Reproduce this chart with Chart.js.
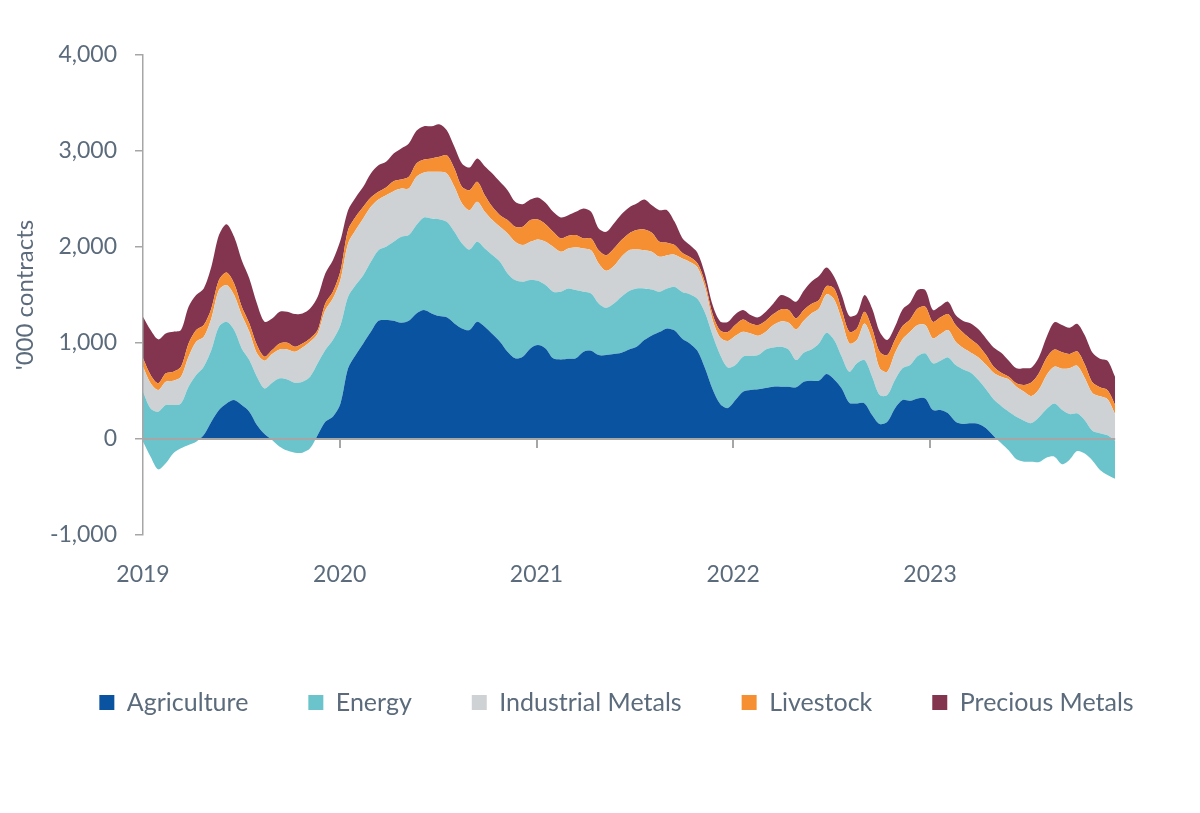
<!doctype html>
<html>
<head>
    <meta charset="utf-8">
    <title>Net positioning by commodity sector</title>
    <script src="https://cdn.jsdelivr.net/npm/chart.js"></script>
    <style>
        html, body { margin: 0; padding: 0; background: #fff; }
        #wrap { width: 1200px; height: 813px; }
    </style>
</head>
<body>
<div id="wrap"><canvas id="myChart"></canvas></div>

<script>
    // tick labels
    var YEARS = [2019, 2020, 2021, 2022, 2023];
    // one point roughly every two weeks, in fractional years from 2019
    var STEP = 0.0386;

    // '000 contracts (stacked in this order)
    var agriculture = [
        -28, -184, -316, -253, -149, -97, -62, -28, 42, 180,
        302, 371, 406, 354, 285, 146, 52, -10, -80, -121,
        -142, -142, -97, 42, 180, 232, 370, 736, 874, 996,
        1117, 1232, 1239, 1232, 1211, 1232, 1308, 1343, 1308, 1280,
        1267, 1204, 1152, 1135, 1221, 1169, 1093, 1013, 909, 840,
        857, 944, 979, 944, 840, 829, 836, 840, 909, 920,
        874, 874, 885, 899, 933, 961, 1031, 1079, 1114, 1152,
        1130, 1045, 996, 918, 736, 518, 365, 322, 405, 493,
        510, 517, 531, 545, 545, 545, 538, 597, 607, 607,
        677, 621, 527, 378, 371, 371, 250, 156, 180, 319,
        406, 399, 423, 423, 302, 302, 267, 180, 156, 163,
        156, 111, 31, -45, -121, -212, -236, -237, -240, -193,
        -184, -262, -215, -126, -152, -224, -323, -375, -415
    ];
    var energy = [
        521, 503, 601, 607, 503, 468, 607, 694, 711, 746,
        867, 850, 729, 590, 537, 503, 475, 596, 712, 742,
        728, 739, 746, 746, 746, 799, 815, 746, 729, 711,
        729, 735, 763, 822, 895, 892, 920, 965, 989, 1010,
        995, 954, 885, 839, 833, 816, 823, 833, 816, 815,
        781, 711, 669, 659, 694, 705, 732, 711, 625, 596,
        538, 493, 527, 583, 608, 607, 537, 479, 420, 416,
        456, 485, 512, 542, 579, 562, 510, 423, 365, 364,
        354, 357, 402, 409, 416, 388, 284, 302, 326, 389,
        430, 410, 330, 323, 417, 451, 399, 302, 278, 295,
        330, 371, 441, 469, 486, 513, 583, 590, 569, 528,
        458, 406, 382, 389, 406, 444, 427, 403, 468, 507,
        554, 567, 475, 393, 347, 309, 383, 413, 396
    ];
    var industrialMetals = [
        260, 261, 225, 243, 253, 278, 312, 347, 312, 330,
        382, 382, 364, 347, 295, 243, 288, 299, 301, 312,
        323, 357, 364, 312, 417, 433, 475, 555, 573, 590,
        573, 528, 538, 528, 503, 485, 503, 468, 486, 493,
        504, 469, 416, 410, 417, 382, 364, 364, 416, 399,
        382, 399, 431, 451, 468, 416, 417, 444, 451, 451,
        417, 385, 389, 416, 426, 406, 399, 392, 364, 347,
        334, 350, 337, 330, 265, 160, 182, 275, 305, 260,
        236, 202, 184, 233, 264, 278, 320, 333, 375, 364,
        402, 423, 382, 295, 243, 382, 382, 278, 243, 278,
        302, 347, 323, 295, 260, 278, 285, 243, 222, 208,
        236, 257, 278, 305, 336, 313, 302, 282, 292, 356,
        383, 427, 478, 495, 440, 395, 385, 377, 277
    ];
    var livestock = [
        87, 86, 70, 87, 94, 104, 139, 122, 122, 104,
        104, 132, 121, 87, 87, 87, 42, 41, 63, 70,
        52, 42, 35, 35, 69, 70, 90, 139, 138, 122,
        97, 80, 80, 104, 94, 122, 139, 135, 139, 156,
        190, 191, 174, 208, 208, 173, 139, 122, 139, 156,
        190, 226, 208, 184, 156, 139, 132, 129, 104, 122,
        138, 163, 184, 174, 174, 202, 216, 198, 156, 130,
        100, 60, 50, 40, 50, 60, 73, 95, 115, 129,
        104, 111, 115, 114, 125, 132, 114, 111, 97, 87,
        84, 114, 104, 121, 121, 122, 121, 173, 173, 139,
        138, 129, 173, 191, 173, 174, 166, 174, 160, 139,
        125, 100, 62, 42, 28, 35, 69, 142, 170, 178,
        178, 172, 148, 151, 140, 110, 93, 93, 96
    ];
    var preciousMetals = [
        434, 469, 458, 416, 416, 382, 382, 364, 381, 434,
        469, 503, 486, 485, 469, 433, 364, 330, 330, 323,
        340, 312, 312, 347, 313, 329, 320, 208, 202, 208,
        250, 277, 267, 288, 323, 347, 340, 347, 336, 340,
        261, 225, 243, 236, 243, 302, 347, 347, 312, 261,
        236, 215, 229, 222, 208, 219, 215, 242, 312, 277,
        226, 243, 260, 270, 271, 277, 312, 288, 330, 339,
        242, 155, 125, 110, 85, 95, 95, 105, 110, 97,
        87, 80, 94, 111, 149, 132, 174, 201, 233, 250,
        194, 122, 156, 163, 149, 173, 208, 208, 157, 138,
        174, 173, 191, 173, 122, 118, 129, 104, 121, 166,
        167, 174, 201, 208, 166, 156, 174, 155, 170, 220,
        285, 284, 274, 287, 305, 310, 298, 306, 291
    ];

    var TEXT = '#5b6b7c';
    var GREY = '#a6a6a6';
    var FONT = 'Lato, "Noto Sans", sans-serif';

    var xs = agriculture.map(function (v, i) { return 2019 + i * STEP; });

    var series = [
        { label: 'Agriculture', color: '#0a53a1', values: agriculture },
        { label: 'Energy', color: '#6bc4cc', values: energy },
        { label: 'Industrial Metals', color: '#cfd2d5', values: industrialMetals },
        { label: 'Livestock', color: '#f68f31', values: livestock },
        { label: 'Precious Metals', color: '#83354f', values: preciousMetals }
    ];

    var datasets = series.map(function (s, k) {
        return {
            label: s.label,
            data: s.values.map(function (v, i) { return { x: xs[i], y: v }; }),
            backgroundColor: s.color,
            borderColor: s.color,
            borderWidth: 0,
            pointRadius: 0,
            tension: 0.3,
            // first layer only paints above zero, like the original
            fill: k === 0 ? { target: 'origin', above: s.color, below: 'rgba(0,0,0,0)' } : '-1'
        };
    });

    // zero line with year ticks, drawn over the areas
    var zeroLine = {
        id: 'zeroLine',
        afterDatasetsDraw: function (chart) {
            var ctx = chart.ctx, x = chart.scales.x, y = chart.scales.y;
            var y0 = y.getPixelForValue(0);
            ctx.save();
            ctx.strokeStyle = GREY;
            ctx.lineWidth = 2;
            ctx.beginPath();
            ctx.moveTo(x.getPixelForValue(xs[0]), y0);
            ctx.lineTo(x.getPixelForValue(xs[xs.length - 1]), y0);
            YEARS.slice(1).forEach(function (yr) {
                var px = Math.round(x.getPixelForValue(yr));
                ctx.moveTo(px, y0);
                ctx.lineTo(px, y0 + 9);
            });
            ctx.stroke();
            ctx.restore();
        }
    };

    new Chart(document.getElementById('myChart'), {
        type: 'line',
        data: { datasets: datasets },
        options: {
            responsive: true,
            maintainAspectRatio: false,
            animation: false,
            layout: { padding: { left: 33, right: 0, top: 55, bottom: 88 } },
            plugins: {
                legend: {
                    position: 'bottom',
                    labels: {
                        boxWidth: 15,
                        boxHeight: 15,
                        padding: 60,
                        color: TEXT,
                        font: { family: FONT, size: 25 }
                    }
                },
                tooltip: { enabled: false }
            },
            scales: {
                x: {
                    type: 'linear',
                    min: 2019,
                    max: 2024.372,
                    afterBuildTicks: function (s) {
                        s.ticks = YEARS.map(function (v) { return { value: v }; });
                    },
                    afterFit: function (s) { s.height = 95; },
                    grid: { display: false, drawTicks: false },
                    border: { display: false },
                    ticks: {
                        padding: 26,
                        color: TEXT,
                        font: { family: FONT, size: 23 },
                        maxRotation: 0,
                        autoSkip: false,
                        callback: function (v) { return String(v); }
                    }
                },
                y: {
                    stacked: 'single',
                    min: -1000,
                    max: 4000,
                    afterFit: function (s) { s.width = 110; },
                    ticks: {
                        stepSize: 1000,
                        padding: 18,
                        color: TEXT,
                        font: { family: FONT, size: 23 }
                    },
                    grid: { drawOnChartArea: false, tickLength: 8, color: GREY, lineWidth: 1.5 },
                    border: { color: GREY, width: 1.5, z: 1 },
                    title: {
                        display: true,
                        text: "'000 contracts",
                        color: TEXT,
                        font: { family: FONT, size: 24 },
                        padding: { top: -22, bottom: 0 }
                    }
                }
            }
        },
        plugins: [zeroLine]
    });
</script>
</body>
</html>
